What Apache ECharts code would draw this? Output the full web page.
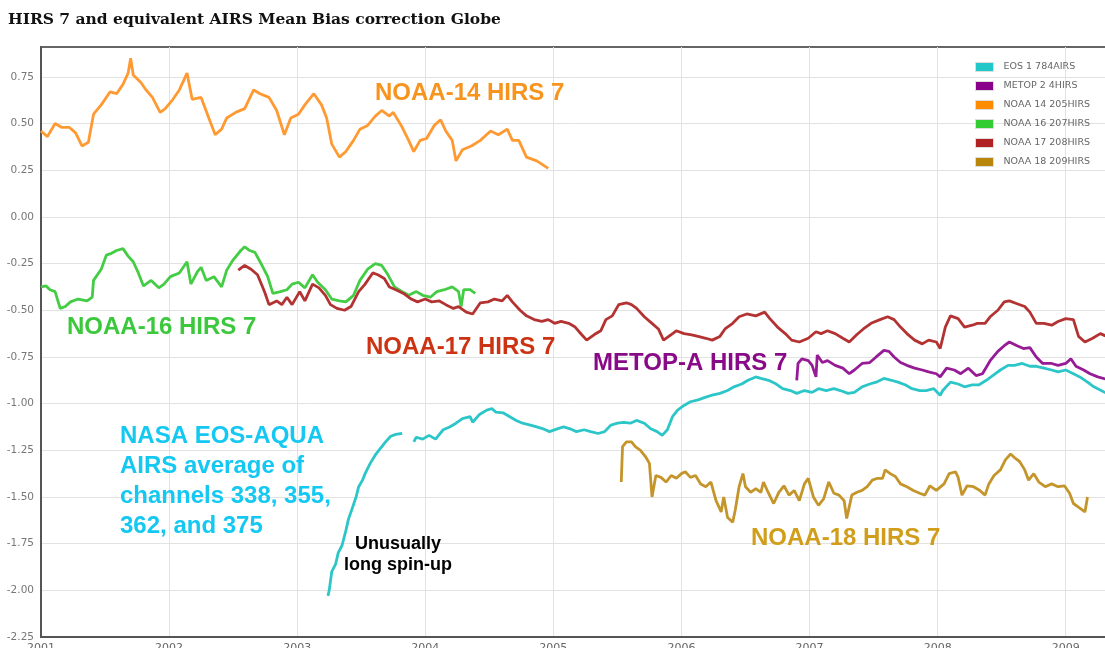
<!DOCTYPE html>
<html>
<head>
<meta charset="utf-8">
<title>HIRS 7 and equivalent AIRS Mean Bias correction Globe</title>
<script src="https://cdn.jsdelivr.net/npm/echarts@6/dist/echarts.min.js"></script>
<style>
  html, body { margin: 0; padding: 0; background: #fff; }
  #chart { width: 1105px; height: 648px; }
</style>
</head>
<body>
<div id="chart"></div>
<script>
// values: [decimal year, bias]
var eos1 = [
  [2003.24,-2.03],[2003.25,-2.0],[2003.27,-1.90],[2003.30,-1.86],[2003.32,-1.80],[2003.35,-1.76],
  [2003.38,-1.68],[2003.40,-1.62],[2003.43,-1.56],[2003.46,-1.50],[2003.48,-1.445],[2003.51,-1.41],
  [2003.53,-1.375],[2003.57,-1.32],[2003.61,-1.275],[2003.65,-1.24],[2003.69,-1.205],[2003.73,-1.175],
  [2003.77,-1.165],[2003.82,-1.16],[2003.86,'-'],
  [2003.91,-1.205],[2003.93,-1.18],[2003.98,-1.19],[2004.03,-1.17],[2004.08,-1.19],[2004.14,-1.14],
  [2004.19,-1.125],[2004.24,-1.105],[2004.29,-1.08],[2004.35,-1.07],[2004.37,-1.10],[2004.42,-1.06],
  [2004.48,-1.035],[2004.52,-1.027],[2004.55,-1.045],[2004.61,-1.05],[2004.66,-1.07],[2004.71,-1.09],
  [2004.76,-1.105],[2004.82,-1.115],[2004.87,-1.125],[2004.92,-1.135],[2004.97,-1.15],[2005.03,-1.135],
  [2005.08,-1.125],[2005.13,-1.135],[2005.18,-1.15],[2005.24,-1.14],[2005.29,-1.15],[2005.35,-1.16],
  [2005.40,-1.15],[2005.45,-1.115],[2005.50,-1.105],[2005.55,-1.10],[2005.60,-1.105],[2005.65,-1.09],
  [2005.71,-1.105],[2005.76,-1.135],[2005.81,-1.15],[2005.85,-1.17],[2005.89,-1.14],[2005.93,-1.07],
  [2005.97,-1.035],[2006.02,-1.01],[2006.07,-0.99],[2006.13,-0.98],[2006.19,-0.965],[2006.24,-0.955],
  [2006.30,-0.945],[2006.36,-0.93],[2006.41,-0.91],[2006.47,-0.895],[2006.52,-0.875],[2006.58,-0.857],
  [2006.62,-0.865],[2006.68,-0.875],[2006.74,-0.895],[2006.79,-0.92],[2006.85,-0.93],[2006.90,-0.945],
  [2006.96,-0.93],[2007.02,-0.94],[2007.07,-0.92],[2007.13,-0.93],[2007.19,-0.92],[2007.24,-0.93],
  [2007.30,-0.945],[2007.35,-0.94],[2007.41,-0.91],[2007.47,-0.895],[2007.52,-0.885],[2007.58,-0.865],
  [2007.64,-0.875],[2007.69,-0.885],[2007.75,-0.90],[2007.80,-0.92],[2007.86,-0.93],[2007.91,-0.93],
  [2007.97,-0.92],[2008.02,-0.955],[2008.04,-0.93],[2008.10,-0.885],[2008.16,-0.895],[2008.21,-0.91],
  [2008.27,-0.90],[2008.32,-0.90],[2008.38,-0.875],[2008.43,-0.85],[2008.49,-0.82],[2008.55,-0.795],
  [2008.60,-0.795],[2008.66,-0.785],[2008.72,-0.80],[2008.77,-0.80],[2008.83,-0.81],[2008.89,-0.82],
  [2008.94,-0.83],[2009.00,-0.82],[2009.06,-0.84],[2009.11,-0.857],[2009.17,-0.885],[2009.22,-0.91],
  [2009.32,-0.945]
];

var metop2 = [
  [2006.90,-0.875],[2006.91,-0.785],[2006.94,-0.76],[2006.99,-0.77],[2007.02,-0.795],[2007.05,-0.857],
  [2007.06,-0.74],[2007.10,-0.78],[2007.14,-0.77],[2007.20,-0.795],[2007.26,-0.81],[2007.31,-0.84],
  [2007.35,-0.82],[2007.41,-0.785],[2007.47,-0.78],[2007.52,-0.75],[2007.58,-0.715],[2007.62,-0.72],
  [2007.66,-0.75],[2007.71,-0.78],[2007.76,-0.795],[2007.82,-0.81],[2007.88,-0.82],[2007.93,-0.83],
  [2007.99,-0.84],[2008.02,-0.857],[2008.07,-0.81],[2008.13,-0.82],[2008.18,-0.84],[2008.24,-0.81],
  [2008.30,-0.85],[2008.35,-0.84],[2008.41,-0.77],[2008.47,-0.72],[2008.52,-0.69],[2008.56,-0.67],
  [2008.62,-0.69],[2008.67,-0.705],[2008.72,-0.70],[2008.77,-0.75],[2008.82,-0.785],[2008.89,-0.785],
  [2008.94,-0.795],[2009.00,-0.785],[2009.04,-0.76],[2009.08,-0.80],[2009.14,-0.82],[2009.19,-0.84],
  [2009.25,-0.857],[2009.32,-0.87]
];

var noaa14 = [
  [2001.00,0.46],[2001.05,0.43],[2001.11,0.50],[2001.16,0.48],[2001.22,0.48],[2001.27,0.45],
  [2001.32,0.38],[2001.37,0.40],[2001.41,0.55],[2001.47,0.60],[2001.54,0.67],[2001.59,0.66],
  [2001.64,0.71],[2001.68,0.77],[2001.70,0.85],[2001.72,0.76],[2001.78,0.72],[2001.82,0.68],
  [2001.87,0.64],[2001.93,0.56],[2001.97,0.58],[2002.03,0.63],[2002.08,0.68],[2002.14,0.77],
  [2002.18,0.63],[2002.25,0.64],[2002.31,0.53],[2002.36,0.44],[2002.41,0.47],[2002.45,0.53],
  [2002.52,0.56],[2002.59,0.58],[2002.66,0.68],[2002.71,0.66],[2002.78,0.64],[2002.84,0.57],
  [2002.90,0.44],[2002.95,0.53],[2003.01,0.55],[2003.06,0.60],[2003.13,0.66],[2003.19,0.60],
  [2003.23,0.53],[2003.27,0.39],[2003.33,0.32],[2003.38,0.35],[2003.44,0.41],[2003.49,0.47],
  [2003.55,0.49],[2003.61,0.54],[2003.66,0.57],[2003.72,0.54],[2003.75,0.56],[2003.82,0.48],
  [2003.87,0.41],[2003.91,0.35],[2003.96,0.41],[2004.01,0.42],[2004.07,0.49],[2004.12,0.52],
  [2004.16,0.46],[2004.21,0.41],[2004.24,0.30],[2004.29,0.36],[2004.36,0.38],[2004.43,0.41],
  [2004.51,0.46],[2004.57,0.44],[2004.64,0.47],[2004.68,0.41],[2004.73,0.41],[2004.79,0.32],
  [2004.87,0.30],[2004.96,0.26]
];

var noaa16 = [
  [2001.00,-0.375],[2001.04,-0.37],[2001.07,-0.39],[2001.11,-0.40],[2001.15,-0.49],[2001.19,-0.48],
  [2001.23,-0.455],[2001.29,-0.44],[2001.36,-0.45],[2001.40,-0.43],[2001.41,-0.34],[2001.47,-0.28],
  [2001.51,-0.205],[2001.55,-0.195],[2001.59,-0.18],[2001.64,-0.17],[2001.68,-0.21],[2001.72,-0.24],
  [2001.76,-0.30],[2001.80,-0.37],[2001.86,-0.34],[2001.92,-0.38],[2001.96,-0.36],[2002.01,-0.32],
  [2002.08,-0.30],[2002.14,-0.24],[2002.17,-0.36],[2002.22,-0.295],[2002.25,-0.27],[2002.29,-0.34],
  [2002.35,-0.32],[2002.41,-0.375],[2002.45,-0.285],[2002.50,-0.23],[2002.56,-0.18],[2002.59,-0.16],
  [2002.63,-0.18],[2002.67,-0.19],[2002.71,-0.24],[2002.77,-0.32],[2002.81,-0.41],[2002.87,-0.40],
  [2002.92,-0.39],[2002.96,-0.36],[2003.01,-0.35],[2003.06,-0.38],[2003.12,-0.31],[2003.16,-0.35],
  [2003.22,-0.39],[2003.27,-0.44],[2003.33,-0.45],[2003.38,-0.455],[2003.44,-0.42],[2003.49,-0.34],
  [2003.55,-0.28],[2003.61,-0.25],[2003.66,-0.26],[2003.70,-0.30],[2003.76,-0.375],[2003.82,-0.40],
  [2003.87,-0.42],[2003.93,-0.40],[2003.98,-0.42],[2004.04,-0.43],[2004.09,-0.40],[2004.15,-0.39],
  [2004.21,-0.375],[2004.26,-0.40],[2004.28,-0.48],[2004.30,-0.39],[2004.35,-0.39],[2004.39,-0.41]
];

var noaa17 = [
  [2002.54,-0.285],[2002.59,-0.26],[2002.64,-0.28],[2002.69,-0.31],[2002.73,-0.375],[2002.75,-0.41],
  [2002.78,-0.47],[2002.84,-0.45],[2002.88,-0.47],[2002.92,-0.43],[2002.96,-0.47],[2003.02,-0.40],
  [2003.06,-0.45],[2003.12,-0.36],[2003.17,-0.38],[2003.22,-0.42],[2003.26,-0.47],[2003.31,-0.49],
  [2003.37,-0.50],[2003.42,-0.48],[2003.48,-0.40],[2003.53,-0.36],[2003.59,-0.30],[2003.63,-0.31],
  [2003.68,-0.33],[2003.72,-0.375],[2003.77,-0.39],[2003.83,-0.41],[2003.89,-0.44],[2003.94,-0.455],
  [2004.00,-0.44],[2004.05,-0.455],[2004.11,-0.45],[2004.16,-0.47],[2004.22,-0.49],[2004.26,-0.48],
  [2004.32,-0.51],[2004.37,-0.52],[2004.43,-0.46],[2004.49,-0.455],[2004.54,-0.44],[2004.60,-0.45],
  [2004.64,-0.42],[2004.68,-0.455],[2004.74,-0.50],[2004.79,-0.53],[2004.85,-0.55],[2004.91,-0.56],
  [2004.96,-0.55],[2005.01,-0.57],[2005.06,-0.56],[2005.12,-0.57],[2005.17,-0.59],[2005.22,-0.63],
  [2005.26,-0.66],[2005.32,-0.63],[2005.37,-0.61],[2005.41,-0.55],[2005.46,-0.53],[2005.51,-0.47],
  [2005.57,-0.46],[2005.61,-0.47],[2005.65,-0.49],[2005.71,-0.535],[2005.77,-0.57],[2005.82,-0.60],
  [2005.86,-0.66],[2005.92,-0.63],[2005.96,-0.61],[2006.02,-0.625],[2006.07,-0.63],[2006.13,-0.64],
  [2006.19,-0.65],[2006.24,-0.66],[2006.30,-0.64],[2006.34,-0.60],[2006.40,-0.57],[2006.45,-0.535],
  [2006.51,-0.52],[2006.58,-0.53],[2006.65,-0.51],[2006.69,-0.545],[2006.75,-0.59],[2006.81,-0.625],
  [2006.86,-0.66],[2006.92,-0.67],[2006.99,-0.65],[2007.05,-0.615],[2007.09,-0.625],[2007.14,-0.61],
  [2007.20,-0.625],[2007.26,-0.65],[2007.31,-0.67],[2007.37,-0.63],[2007.42,-0.60],[2007.48,-0.57],
  [2007.55,-0.55],[2007.61,-0.535],[2007.66,-0.55],[2007.71,-0.59],[2007.76,-0.625],[2007.82,-0.66],
  [2007.88,-0.68],[2007.93,-0.66],[2007.99,-0.67],[2008.02,-0.705],[2008.06,-0.59],[2008.10,-0.53],
  [2008.16,-0.545],[2008.21,-0.59],[2008.27,-0.58],[2008.31,-0.57],[2008.37,-0.57],[2008.41,-0.535],
  [2008.47,-0.50],[2008.52,-0.455],[2008.56,-0.45],[2008.62,-0.465],[2008.68,-0.48],[2008.72,-0.51],
  [2008.77,-0.57],[2008.83,-0.57],[2008.89,-0.58],[2008.94,-0.56],[2009.00,-0.545],[2009.06,-0.55],
  [2009.10,-0.64],[2009.15,-0.67],[2009.21,-0.65],[2009.27,-0.625],[2009.32,-0.64]
];

var noaa18 = [
  [2005.53,-1.42],[2005.54,-1.23],[2005.57,-1.205],[2005.61,-1.205],[2005.64,-1.23],[2005.68,-1.25],
  [2005.72,-1.285],[2005.75,-1.32],[2005.77,-1.50],[2005.80,-1.385],[2005.84,-1.395],[2005.88,-1.42],
  [2005.92,-1.385],[2005.96,-1.40],[2006.00,-1.375],[2006.03,-1.365],[2006.07,-1.395],[2006.11,-1.385],
  [2006.15,-1.43],[2006.19,-1.445],[2006.23,-1.42],[2006.27,-1.52],[2006.31,-1.58],[2006.33,-1.50],
  [2006.36,-1.61],[2006.40,-1.635],[2006.42,-1.57],[2006.45,-1.445],[2006.48,-1.375],[2006.50,-1.445],
  [2006.54,-1.475],[2006.58,-1.455],[2006.62,-1.475],[2006.64,-1.42],[2006.68,-1.48],[2006.72,-1.535],
  [2006.76,-1.475],[2006.80,-1.44],[2006.84,-1.49],[2006.88,-1.465],[2006.92,-1.52],[2006.96,-1.43],
  [2006.99,-1.40],[2007.03,-1.50],[2007.07,-1.545],[2007.11,-1.51],[2007.15,-1.42],[2007.19,-1.48],
  [2007.23,-1.49],[2007.27,-1.52],[2007.29,-1.615],[2007.33,-1.49],[2007.37,-1.475],[2007.41,-1.465],
  [2007.45,-1.445],[2007.49,-1.41],[2007.53,-1.40],[2007.57,-1.40],[2007.59,-1.355],[2007.63,-1.375],
  [2007.67,-1.39],[2007.71,-1.43],[2007.76,-1.445],[2007.81,-1.465],[2007.86,-1.48],[2007.90,-1.49],
  [2007.94,-1.44],[2007.99,-1.465],[2008.05,-1.43],[2008.09,-1.375],[2008.14,-1.365],[2008.16,-1.395],
  [2008.19,-1.49],[2008.23,-1.44],[2008.28,-1.445],[2008.33,-1.465],[2008.37,-1.49],[2008.40,-1.43],
  [2008.44,-1.385],[2008.49,-1.355],[2008.53,-1.30],[2008.57,-1.27],[2008.61,-1.295],[2008.64,-1.31],
  [2008.68,-1.355],[2008.71,-1.41],[2008.75,-1.375],[2008.79,-1.42],[2008.84,-1.445],[2008.89,-1.43],
  [2008.94,-1.445],[2008.99,-1.44],[2009.03,-1.48],[2009.06,-1.535],[2009.11,-1.56],[2009.15,-1.58],
  [2009.17,-1.50]
];

var seriesNames = ['EOS 1 784AIRS', 'METOP 2 4HIRS', 'NOAA 14 205HIRS', 'NOAA 16 207HIRS', 'NOAA 17 208HIRS', 'NOAA 18 209HIRS'];
var seriesData = [eos1, metop2, noaa14, noaa16, noaa17, noaa18];
var legendColors = ['#22c8c8', '#8b008b', '#ff8c00', '#33cc33', '#b22222', '#b8860b'];
var lineColors = ['#2cc6c9', '#961c96', '#ff9a33', '#44cc44', '#b33333', '#c4952a'];

var yearTicks = [2001, 2002, 2003, 2004, 2005, 2006, 2007, 2008, 2009];

var dom = document.getElementById('chart');
var myChart = echarts.init(dom);

var series = [];
for (var i = 0; i < seriesNames.length; i++) {
  series.push({
    name: seriesNames[i],
    type: 'line',
    data: seriesData[i],
    showSymbol: false,
    connectNulls: false,
    itemStyle: { color: legendColors[i] },
    lineStyle: { color: lineColors[i], width: 2.8 }
  });
}

var txt = function (x, y, text, color, size, lh) {
  return {
    type: 'text', x: x, y: y, z: 100,
    style: {
      text: text, fill: color,
      font: 'bold ' + size + 'px "Liberation Sans", Arial, sans-serif',
      lineHeight: lh || size
    }
  };
};

option = {
  animation: false,
  backgroundColor: '#fff',
  title: {
    text: 'HIRS 7 and equivalent AIRS Mean Bias correction Globe',
    left: 3, top: 7,
    textStyle: { fontFamily: '"DejaVu Serif", serif', fontWeight: 'bold', fontSize: 15.5, color: '#111' }
  },
  legend: {
    orient: 'vertical',
    left: 970, top: 57,
    itemWidth: 18, itemHeight: 9, itemGap: 9,
    icon: 'rect',
    itemStyle: { borderColor: '#ddd', borderWidth: 1 },
    textStyle: { fontFamily: '"DejaVu Sans", sans-serif', fontSize: 9.5, color: '#666', padding: [0, 0, 0, 5] },
    data: seriesNames
  },
  grid: {
    left: 41, right: -3, top: 47, bottom: 11,
    outerBoundsMode: 'none',
    containLabel: false,
    show: true, borderColor: '#666', borderWidth: 2
  },
  xAxis: {
    type: 'value',
    min: 2001, max: 2009.33, interval: 1,
    axisLine: { show: true, onZero: false, lineStyle: { color: '#555', width: 2 } },
    axisTick: { show: false },
    splitLine: { show: true, showMinLine: false, showMaxLine: false, lineStyle: { color: '#e2e2e2' } },
    axisLabel: {
      showMaxLabel: false, margin: 6,
      color: '#666', fontSize: 11, fontFamily: '"DejaVu Sans", sans-serif',
      formatter: function (v) { return yearTicks.indexOf(v) >= 0 ? String(v) : ''; }
    }
  },
  yAxis: {
    type: 'value',
    min: -2.25, max: 0.91, interval: 0.25,
    axisLine: { show: true, onZero: false, lineStyle: { color: '#555', width: 2 } },
    axisTick: { show: false },
    splitLine: { show: true, showMinLine: false, showMaxLine: false, lineStyle: { color: '#e2e2e2' } },
    axisLabel: {
      showMaxLabel: false, margin: 7,
      color: '#777', fontSize: 10.5, fontFamily: '"DejaVu Sans", sans-serif',
      formatter: function (v) { return v.toFixed(2); }
    }
  },
  graphic: [
    txt(375, 81, 'NOAA-14 HIRS 7', '#f7941e', 24),
    txt(67, 315, 'NOAA-16 HIRS 7', '#3cc83c', 24),
    txt(366, 335, 'NOAA-17 HIRS 7', '#cc3312', 24),
    txt(593, 351, 'METOP-A HIRS 7', '#880a88', 24),
    txt(120, 421, 'NASA EOS-AQUA\nAIRS average of\nchannels 338, 355,\n362, and 375', '#14c8f2', 24, 30),
    txt(751, 526, 'NOAA-18 HIRS 7', '#d09e1a', 24),
    {
      type: 'text', x: 398, y: 534, z: 100,
      style: {
        text: 'Unusually\nlong spin-up', fill: '#000', textAlign: 'center', align: 'center',
        font: 'bold 18px "Liberation Sans", Arial, sans-serif', lineHeight: 21
      }
    }
  ],
  series: series
};

if (option && typeof option === "object") {
  myChart.setOption(option, true);
}
</script>
</body>
</html>
